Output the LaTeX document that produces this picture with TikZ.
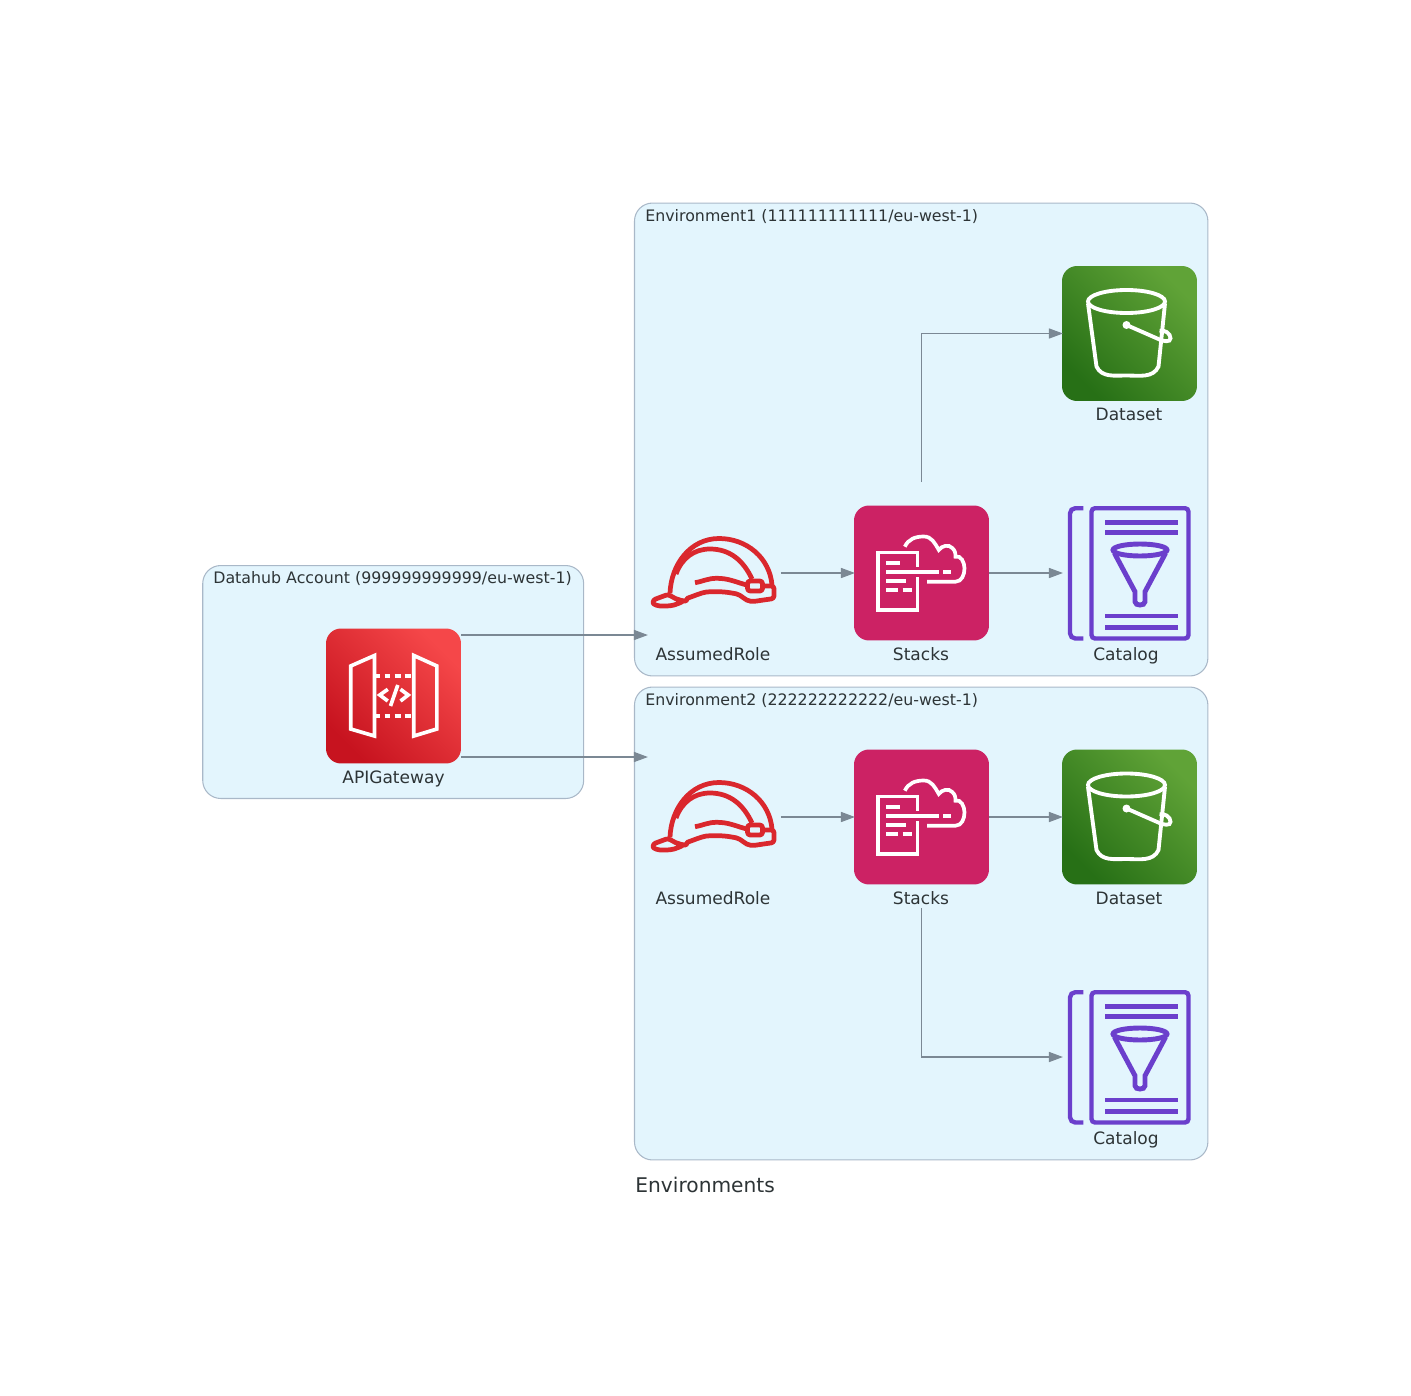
\documentclass[tikz,border=0pt]{standalone}
\usepackage{fontspec}
\setmainfont{DejaVu Sans}
\usetikzlibrary{arrows.meta}
\definecolor{clusterfill}{HTML}{E3F5FD}
\definecolor{clusterline}{HTML}{A9B8C8}
\definecolor{edgegray}{HTML}{7B8894}
\definecolor{textdark}{HTML}{2D3436}
\definecolor{helmetred}{HTML}{DA272D}
\definecolor{catalogpurple}{HTML}{6B3FCC}
\definecolor{stackspink}{HTML}{CC2264}
\definecolor{gatelow}{HTML}{C7131F}
\definecolor{gatehigh}{HTML}{F54749}
\definecolor{bucketlow}{HTML}{277016}
\definecolor{buckethigh}{HTML}{60A337}
\tikzset{
    clusterbox/.style={draw=clusterline, fill=clusterfill, line width=0.6pt, rounded corners=0.36cm, inner sep=0pt},
    cluster/.style={text=textdark, anchor=west, inner sep=0pt, font=\fontsize{9}{11}\selectfont},
    iconbox/.style={minimum width=2.7cm, minimum height=2.7cm, inner sep=0pt, outer sep=0pt, rounded corners=0.3cm},
    gatebox/.style={iconbox, bottom color=gatelow, top color=gatehigh, shading angle=-45},
    stacksbox/.style={iconbox, fill=stackspink},
    bucketbox/.style={iconbox, bottom color=bucketlow, top color=buckethigh, shading angle=-45},
    slot/.style={minimum width=2.72cm, minimum height=3.68cm, inner sep=0pt, outer sep=0pt},
    caption/.style={text=textdark, inner sep=0pt, font=\fontsize{9.7}{11}\selectfont},
    edge/.style={draw=edgegray, line width=0.6pt, shorten >=-0.5pt, -{Triangle[length=8pt,width=5.8pt]}},
    pics/gateicon/.style={code={
        \begin{scope}[white, line width=2.1pt]
            \draw (-42.8,-30) -- (-19,-40.5) -- (-19,40) -- (-42.8,33) -- cycle; \draw (20.3,-40.5) -- (43.4,-30) -- (43.4,33) -- (20.3,40) -- cycle;
            \draw[dash pattern=on 3.4pt off 2.3pt] (-19,-20) -- (20,-20); \draw[dash pattern=on 3.4pt off 2.3pt] (-19,19.7) -- (20,19.7);
            \draw (-5.7,-6.7) -- (-13.7,-1) -- (-5.7,5); \draw (7,-6.7) -- (14.7,-1) -- (7,5); \draw (4.3,-11) -- (-3,10);
        \end{scope}
    }},
    pics/helmeticon/.style={code={
        \begin{scope}[helmetred, line width=2.7pt, line join=round]
            \draw (-43,20.3) to[out=88,in=180] (6,-34.5) to[out=0,in=95] (59,12);
            \draw (-37,1) to[out=70,in=180] (-3,-24) to[out=0,in=115] (39,6);
            \draw (-18,9.7) to[out=10,in=180] (3.7,5.3) to[out=0,in=165] (33.7,12);
            \draw[rounded corners=1.5pt] (34.5,8) rectangle (49.5,18);
            \draw[rounded corners=1.5pt] (49,13) -- (61,13) -- (61,25.5) -- (40.3,28.5) to[out=175,in=-10] (20.3,20.3) to[out=170,in=0] (0.3,18.7) to[out=180,in=20] (-23,24.3) to[out=-160,in=0] (-29.7,28) to[out=165,in=-35] (-44.7,21.3) -- (-60,27) to[out=-90,in=180] (-49.7,33) to[out=0,in=-150] (-29.7,28);
        \end{scope}
    }},
    pics/stackicon/.style={code={
        \begin{scope}[white, line width=2.1pt]
            \draw (-4.1,-6.3) -- (-4.1,-20.5) -- (-43.6,-20.5) -- (-43.6,37) -- (-4.1,37) -- (-4.1,4.3);
            \draw (-35.3,-9.7) -- (-21.7,-9.7); \draw (-35.3,-0.7) -- (17.9,-0.7); \draw (21.7,-0.7) -- (29,-0.7); \draw (-35.3,8.3) -- (-16,8.3); \draw (-35.3,17.3) -- (-23.7,17.3); \draw (-19,17.3) -- (-10,17.3);
            \draw (-16.7,-26.3) to[out=65,in=180] (2.3,-36.5) to[out=0,in=120] (17.3,-23) to[out=55,in=130] (30.7,-25) to[out=-40,in=90] (34,-16.3) to[out=20,in=90] (43,-4.7) to[out=-90,in=0] (34,8.7) -- (5.7,8.7);
        \end{scope}
    }},
    pics/bucketicon/.style={code={
        \begin{scope}[white, line width=2.2pt]
            \draw (-3,-32) ellipse [x radius=38.5, y radius=11.5];
            \draw (-41.5,-30) -- (-33,33) to[out=-65,in=180] (-3,42) to[out=0,in=-115] (29,33) -- (35.5,-30);
            \fill (-3,-8.5) circle [radius=4];
            \draw (-3,-8.5) -- (30,6) to[out=-25,in=-90] (41,4.8) to[out=90,in=10] (30,-2.8);
        \end{scope}
    }},
    pics/funnelicon/.style={code={
        \begin{scope}[catalogpurple, line width=2.5pt]
            \draw[rounded corners=3pt] (-46.2,-64.8) -- (-59.5,-64.8) -- (-59.5,65.5) -- (-46.2,65.5);
            \draw[rounded corners=2pt] (-38,-64.8) -- (59,-64.8) -- (59,65.5) -- (-38,65.5) -- cycle;
            \draw[line width=2.8pt] (-24.5,-50.7) -- (48.2,-50.7); \draw[line width=2.8pt] (-24.5,-40.3) -- (48.2,-40.3); \draw[line width=2.8pt] (-24.5,43) -- (48.2,43); \draw[line width=2.8pt] (-24.5,54.3) -- (48.2,54.3);
            \draw[line width=2.8pt] (10.5,-23) ellipse [x radius=27, y radius=6];
            \draw[line width=2.8pt] (-15,-19.7) -- (5.5,18.7) -- (5.5,28.7) to[out=-90,in=180] (10.5,32) to[out=0,in=-90] (15.5,28.7) -- (15.5,18.7) -- (36,-19.7);
        \end{scope}
    }}
}

\begin{document}
\begin{tikzpicture}[x=0.02cm, y=-0.02cm]
    \useasboundingbox (0,0) rectangle (1411,1396);

    \node[clusterbox, minimum width=7.62cm, minimum height=4.66cm] (hub) at (393.2,682) {};
    \node[clusterbox, minimum width=11.47cm, minimum height=9.46cm] (env1) at (921.2,439.5) {};
    \node[clusterbox, minimum width=11.47cm, minimum height=9.46cm] (env2) at (921.2,923.5) {};
    \node[cluster] (hubtitle) at (213,578.3) {Datahub Account (999999999999/eu-west-1)};
    \node[cluster] (env1title) at (645,216.3) {Environment1 (111111111111/eu-west-1)};
    \node[cluster] (env2title) at (645,700.3) {Environment2 (222222222222/eu-west-1)};
    \node[text=textdark, anchor=west, inner sep=0pt, font=\fontsize{11.5}{13}\selectfont] (envtitle) at (635,1185) {Environments};

    % first account
    \node[gatebox] (gateway) at (393.5,696) {}; \pic at (gateway) {gateicon};
    \node[caption] (gatewaytext) at (393.5,779) {APIGateway};

    % first environment
    \node[slot] (role1) at (713,573) {}; \pic at (role1) {helmeticon};
    \node[stacksbox] (stacks1) at (921.5,573) {}; \pic at (stacks1) {stackicon};
    \node[bucketbox] (dataset1) at (1129.5,333.5) {}; \pic at (dataset1) {bucketicon};
    \node[iconbox] (catalog1) at (1129.5,573) {}; \pic at (catalog1) {funnelicon};
    \node[caption] (role1text) at (713,654.3) {AssumedRole};
    \node[caption] (stacks1text) at (921,654.3) {Stacks};
    \node[caption] (dataset1text) at (1129,414.3) {Dataset};
    \node[caption] (catalog1text) at (1126,656) {Catalog};

    % second environment
    \node[slot] (role2) at (713,817) {}; \pic at (role2) {helmeticon};
    \node[stacksbox] (stacks2) at (921.5,817) {}; \pic at (stacks2) {stackicon};
    \node[bucketbox] (dataset2) at (1129.5,817) {}; \pic at (dataset2) {bucketicon};
    \node[iconbox] (catalog2) at (1129.5,1057) {}; \pic at (catalog2) {funnelicon};
    \node[caption] (role2text) at (713,898.3) {AssumedRole};
    \node[caption] (stacks2text) at (921,898.3) {Stacks};
    \node[caption] (dataset2text) at (1129,898.3) {Dataset};
    \node[caption] (catalog2text) at (1126,1140) {Catalog};

    \coordinate (gateout1) at (461,635); \coordinate (gateout2) at (461,757); \coordinate (rolein1) at (647,635); \coordinate (rolein2) at (647,757);
    \coordinate (stacksup) at (921.5,482); \coordinate (stacksdown) at (921.5,908);
    \draw[edge] (gateout1) -- (rolein1); \draw[edge] (gateout2) -- (rolein2);
    \draw[edge] (role1) -- (stacks1); \draw[edge] (stacks1) -- (catalog1); \draw[edge] (stacksup) |- (dataset1);
    \draw[edge] (role2) -- (stacks2); \draw[edge] (stacks2) -- (dataset2); \draw[edge] (stacksdown) |- (catalog2);
\end{tikzpicture}
\end{document}
